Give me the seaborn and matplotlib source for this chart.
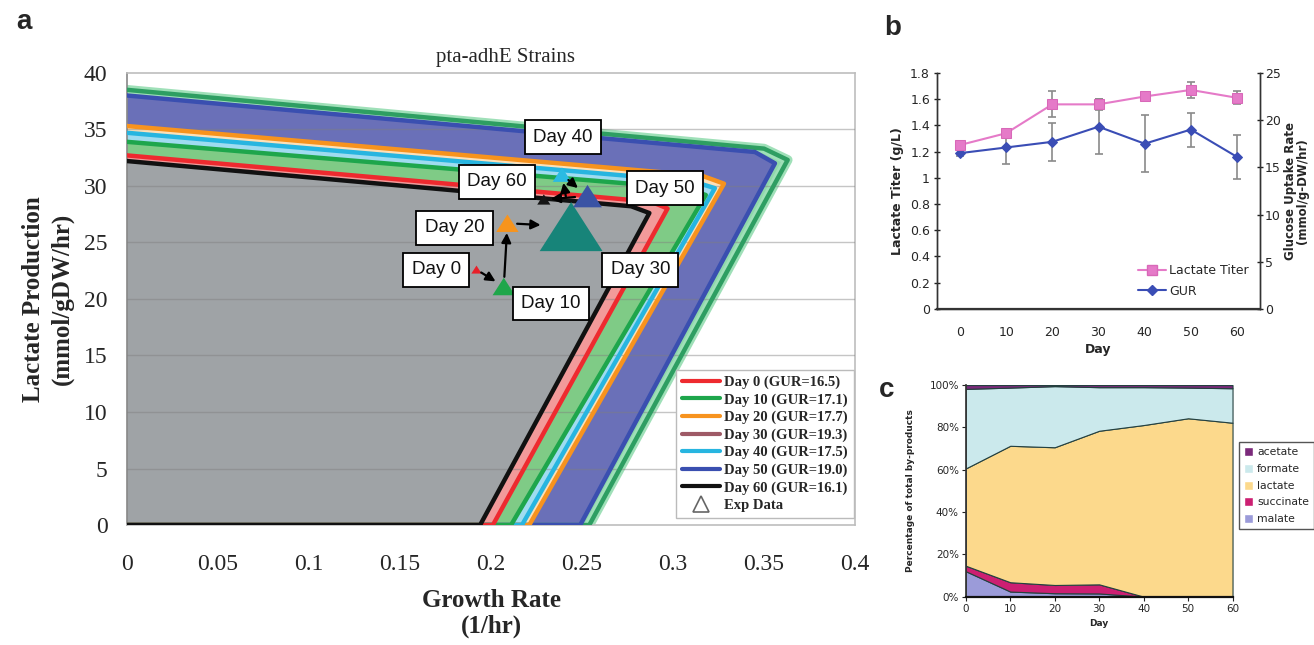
import numpy as np
import pandas as pd
import matplotlib
matplotlib.use('Agg')
import matplotlib.pyplot as plt
import seaborn as sns
from matplotlib.lines import Line2D
from matplotlib.patches import Patch

sns.set_theme(style='white')
plt.rcParams['font.family'] = ['DejaVu Sans']

# ---------------- Panel a data ----------------
days = [0, 10, 20, 30, 40, 50, 60]
gur = [16.5, 17.1, 17.7, 19.3, 17.5, 19.0, 16.1]
env_y0 = [32.7, 33.9, 35.3, 38.5, 34.7, 38.0, 32.2]
env_knee_x = [0.288, 0.306, 0.316, 0.350, 0.311, 0.345, 0.277]
env_knee_y = [28.6, 29.8, 30.9, 33.3, 30.4, 33.0, 28.2]
env_corner_x = [0.297, 0.318, 0.328, 0.363, 0.323, 0.356, 0.287]
env_corner_y = [28.0, 29.2, 30.2, 32.3, 29.8, 32.0, 27.6]
env_xint = [0.201, 0.211, 0.221, 0.254, 0.217, 0.249, 0.194]

exp_mu = [0.192, 0.207, 0.209, 0.244, 0.239, 0.253, 0.229]
exp_lac = [22.6, 21.1, 26.7, 26.4, 31.0, 29.1, 28.8]

# ---------------- Panel b data ----------------
b_days = [0, 10, 20, 30, 40, 50, 60]
lactate_titer = [1.25, 1.34, 1.56, 1.56, 1.62, 1.67, 1.61]
lactate_err = [0.03, 0.03, 0.10, 0.04, 0.03, 0.06, 0.05]
gur_b = [16.5, 17.1, 17.7, 19.3, 17.5, 19.0, 16.1]
gur_err = [0.3, 1.8, 2.0, 2.9, 3.0, 1.8, 2.3]

# ---------------- Panel c data ----------------
c_days = [0, 10, 20, 30, 40, 50, 60]
malate = [12.0, 2.4, 1.6, 1.5, 0.0, 0.0, 0.0]
succinate = [2.6, 4.4, 3.9, 4.3, 0.0, 0.0, 0.0]
lactate = [46.0, 64.5, 65.1, 72.6, 81.1, 84.3, 82.2]
formate = [37.6, 27.5, 28.9, 20.6, 17.9, 14.5, 16.3]
acetate = [1.8, 1.2, 0.5, 1.0, 1.0, 1.2, 1.5]

# ---------------- styles ----------------
edge_cols = ['#ee2a2f', '#1ea64c', '#f7931e', '#2e9e62', '#27b5e0', '#3a4fb0', '#111111']
fill_cols = ['#f29a9a', '#7fcb86', '#fde0b8', '#8fd8ab', '#9fdcf0', '#6a70b8', '#9fa3a6']
legend_cols = ['#ee2a2f', '#1ea64c', '#f7931e', '#9e5a66', '#27b5e0', '#3a4fb0', '#111111']
tri_cols = ['#e8202a', '#1fa64a', '#f7941d', '#178479', '#2bbbe3', '#3a53a4', '#151515']
tri_sizes = [55, 260, 260, 2050, 180, 430, 90]
draw_order = [3, 5, 2, 4, 1, 0, 6]
label_pos = {0: (0.170, 22.6), 10: (0.233, 19.6), 20: (0.180, 26.3), 30: (0.282, 22.6),
             40: (0.2396, 34.3), 50: (0.2956, 29.8), 60: (0.2033, 30.35)}
shrinks = [(4, 7), (7, 7), (7, 22), (22, 6), (6, 9), (9, 5)]

serif = ['Liberation Serif', 'DejaVu Serif']
sans = ['Liberation Sans', 'DejaVu Sans']

fig = plt.figure(figsize=(13.14, 6.45), dpi=100)

# ================= Panel a =================
ax = fig.add_axes([0.0967, 0.186, 0.554, 0.701])
tri = [(0, 0.78), (-1, -0.78), (1, -0.78)]

for i in draw_order:
    px = [0, 0, env_knee_x[i], env_corner_x[i], env_xint[i]]
    py = [0, env_y0[i], env_knee_y[i], env_corner_y[i], 0]
    ax.fill(px, py, color=fill_cols[i], lw=0, zorder=2)
    if i == 3:
        ax.plot(px[1:], py[1:], color='#9fe0b8', lw=7, zorder=2.5,
                solid_joinstyle='round')
    ax.plot(px[1:] + [0], py[1:] + [0], color=edge_cols[i], lw=3.2, zorder=3,
            solid_joinstyle='round')

for yv in range(5, 40, 5):
    ax.axhline(yv, color='#7f7f7f', lw=1.0, alpha=0.45, zorder=2.8)

df_exp = pd.DataFrame({'mu': exp_mu, 'lac': exp_lac, 'day': [f'Day {d}' for d in days]})
sns.scatterplot(data=df_exp, x='mu', y='lac', hue='day', size='day',
                palette=dict(zip(df_exp['day'], tri_cols)),
                sizes=dict(zip(df_exp['day'], tri_sizes)),
                marker=tri, edgecolor='none', legend=False, ax=ax, zorder=5)

for k in range(len(days) - 1):
    ax.annotate('', xy=(exp_mu[k + 1], exp_lac[k + 1]), xytext=(exp_mu[k], exp_lac[k]),
                arrowprops=dict(arrowstyle='-|>', color='black', lw=1.6,
                                shrinkA=shrinks[k][0], shrinkB=shrinks[k][1],
                                mutation_scale=14), zorder=6)

for d in days:
    x, y = label_pos[d]
    ax.text(x, y, f'Day {d}', ha='center', va='center', fontsize=13.5, family=sans,
            color='#111111', zorder=7,
            bbox=dict(boxstyle='square,pad=0.45', fc='white', ec='black', lw=1.3))

ax.set_xlim(0, 0.4)
ax.set_ylim(0, 40)
ax.set_xticks(np.arange(0, 0.41, 0.05))
ax.set_xticklabels(['0', '0.05', '0.1', '0.15', '0.2', '0.25', '0.3', '0.35', '0.4'])
ax.set_yticks(range(0, 41, 5))
ax.tick_params(axis='y', labelsize=17, length=0, pad=14)
ax.tick_params(axis='x', labelsize=17, length=0, pad=21)
for lab in ax.get_xticklabels() + ax.get_yticklabels():
    lab.set_family(serif)
for s in ax.spines.values():
    s.set_color('#bdbdbd')
    s.set_linewidth(1.2)
ax.spines['left'].set_color('#888888')
ax.set_xlabel('Growth Rate\n(1/hr)', fontsize=18, fontweight='bold', family=serif,
              labelpad=10, linespacing=1.15)
ax.set_ylabel('Lactate Production\n(mmol/gDW/hr)', fontsize=18, fontweight='bold',
              family=serif, labelpad=7, linespacing=1.35)
ax.text(0.52, 1.012, 'pta-adhE Strains', transform=ax.transAxes, ha='center',
        va='bottom', fontsize=15, family=serif)

handles = [Line2D([0], [0], color=legend_cols[i], lw=3) for i in range(7)]
handles.append(Line2D([0], [0], marker='^', color='#666666', mfc='white', ls='none',
                      markersize=11, mew=1.2))
labels = [f'Day {d} (GUR={g})' for d, g in zip(days, gur)] + ['Exp Data']
leg = ax.legend(handles, labels, loc='lower right', bbox_to_anchor=(1.008, 0.0),
                prop=dict(family=serif, weight='bold', size=10.5), frameon=True,
                fancybox=False, edgecolor='#bbbbbb', framealpha=1, handlelength=2.6,
                labelspacing=0.28, borderpad=0.4, handletextpad=0.3)
leg.set_zorder(10)

fig.text(0.012, 0.955, 'a', fontsize=20, fontweight='bold', family=sans)

# ================= Panel b =================
axb = fig.add_axes([0.713, 0.521, 0.246, 0.366])
axb2 = axb.twinx()
df_b = pd.DataFrame({'Day': b_days, 'Lactate Titer': lactate_titer, 'GUR': gur_b})
axb.errorbar(b_days, lactate_titer, yerr=lactate_err, fmt='none', ecolor='#8a8a8a',
             elinewidth=1.2, capsize=3, capthick=1.2, zorder=2)
sns.lineplot(data=df_b, x='Day', y='Lactate Titer', ax=axb, color='#e57ac8', lw=1.5,
             marker='s', markersize=7, markeredgecolor='#d868b8', zorder=4)
axb2.errorbar(b_days, gur_b, yerr=gur_err, fmt='none', ecolor='#8a8a8a',
              elinewidth=1.2, capsize=3, capthick=1.2, zorder=2)
sns.lineplot(data=df_b, x='Day', y='GUR', ax=axb2, color='#3a4db5', lw=1.5,
             marker='D', markersize=5, markeredgecolor='#3a4db5', zorder=4)
axb.set_zorder(axb2.get_zorder() + 1)
axb.patch.set_visible(False)

axb.set_xlim(-5, 65)
axb.set_ylim(0, 1.8)
axb2.set_ylim(0, 25)
axb.set_xticks(b_days)
axb.set_xticks(np.arange(-5, 66, 10), minor=True)
axb.set_yticks(np.arange(0, 1.81, 0.2))
axb.set_yticklabels(['0', '0.2', '0.4', '0.6', '0.8', '1', '1.2', '1.4', '1.6', '1.8'])
axb2.set_yticks(range(0, 26, 5))
axb.tick_params(axis='x', which='major', length=0, labelsize=9, pad=12)
axb.tick_params(axis='x', which='minor', length=4, width=1, direction='inout', color='#222222')
axb.tick_params(axis='y', length=4, width=1, direction='inout', labelsize=9, left=True,
                color='#222222', pad=3)
axb2.tick_params(axis='y', length=4, width=1, direction='inout', labelsize=9, right=True,
                 color='#222222', pad=1.5)
for a in (axb, axb2):
    a.spines['top'].set_visible(False)
    for s in ('left', 'right', 'bottom'):
        a.spines[s].set_color('#333333')
        a.spines[s].set_linewidth(1.0)
    a.grid(False)
axb.spines['bottom'].set_linewidth(1.6)
axb.set_xlabel('Day', fontsize=9, fontweight='bold', labelpad=3)
axb.set_ylabel('Lactate Titer (g/L)', fontsize=9, fontweight='bold', labelpad=4)
axb2.set_ylabel('Glucose Uptake Rate\n(mmol/g-DW/hr)', fontsize=8.5, fontweight='bold',
                labelpad=2, linespacing=0.95)
hb = [Line2D([0], [0], color='#e57ac8', marker='s', markersize=7, lw=1.5,
             markeredgecolor='#d868b8'),
      Line2D([0], [0], color='#3a4db5', marker='D', markersize=5, lw=1.5)]
axb.legend(hb, ['Lactate Titer', 'GUR'], loc='lower right', bbox_to_anchor=(1.0, 0.0),
           frameon=False, fontsize=9, handlelength=2.2, handletextpad=0.3, labelspacing=0.6)
fig.text(0.673, 0.945, 'b', fontsize=20, fontweight='bold', family=sans)

# ================= Panel c =================
axc = fig.add_axes([0.735, 0.075, 0.203, 0.328])
c_cols = ['#9b9bd9', '#cc1f72', '#fcd98c', '#cbe9ec', '#7b2a7b']
c_names = ['malate', 'succinate', 'lactate', 'formate', 'acetate']
axc.stackplot(c_days, malate, succinate, lactate, formate, acetate, colors=c_cols,
              edgecolor='#24403f', linewidth=0.8, labels=c_names)
axc.set_xlim(0, 60)
axc.set_ylim(0, 100)
axc.set_xticks(c_days)
axc.set_yticks(range(0, 101, 20))
axc.set_yticklabels([f'{v}%' for v in range(0, 101, 20)])
axc.tick_params(axis='both', labelsize=7.5, length=3, width=0.8, direction='out',
                left=True, bottom=True, color='#222222', pad=2)
for s in axc.spines.values():
    s.set_visible(False)
axc.spines['left'].set_visible(True)
axc.spines['bottom'].set_visible(True)
axc.spines['left'].set_color('#333333')
axc.spines['bottom'].set_color('#111111')
axc.spines['bottom'].set_linewidth(1.6)
axc.grid(False)
axc.set_xlabel('Day', fontsize=6.5, fontweight='bold', labelpad=4)
axc.set_ylabel('Percentage of total by-products', fontsize=6.5, fontweight='bold', labelpad=10)
hc = [Patch(facecolor=c_cols[i]) for i in [4, 3, 2, 1, 0]]
axc.legend(hc, [c_names[i] for i in [4, 3, 2, 1, 0]], loc='upper left',
           bbox_to_anchor=(1.025, 0.73), fontsize=7.8, frameon=True, fancybox=False,
           edgecolor='#555555', framealpha=1, handlelength=0.8, handleheight=0.9,
           handletextpad=0.4, labelspacing=0.6, borderpad=0.45, borderaxespad=0)
fig.text(0.669, 0.385, 'c', fontsize=20, fontweight='bold', family=sans)

fig.savefig('out.png', dpi=100)
